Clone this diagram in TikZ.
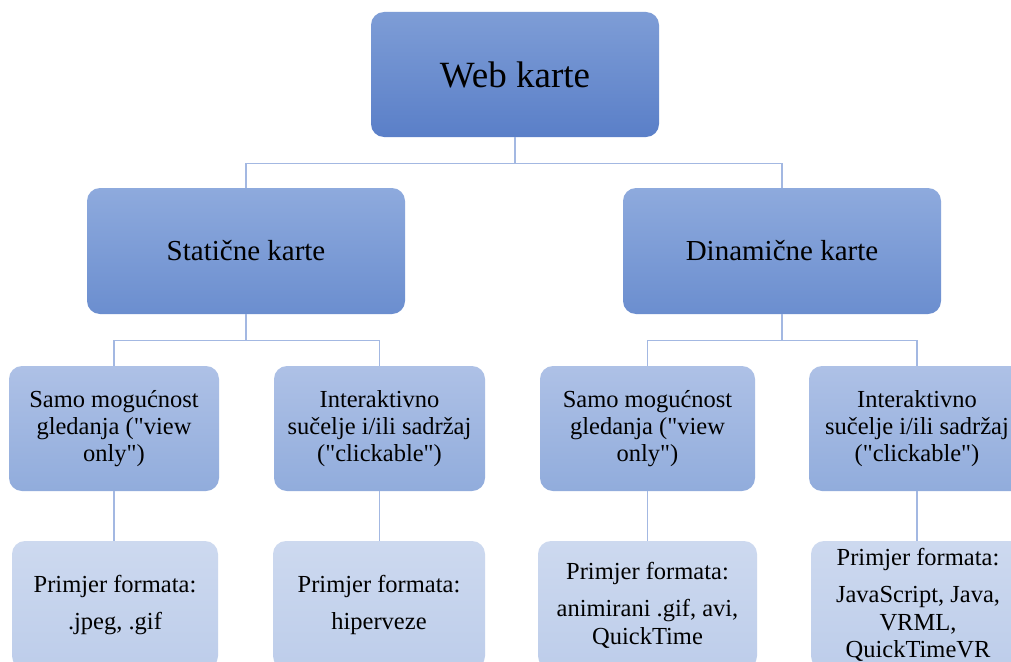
\documentclass[tikz,border=0pt]{standalone}
\usepackage{fontspec}
\setmainfont{Liberation Serif}
\definecolor{aT}{HTML}{7E9DD6}
\definecolor{aB}{HTML}{5A7FC8}
\definecolor{bT}{HTML}{8EAADD}
\definecolor{bB}{HTML}{6B8ECF}
\definecolor{cT}{HTML}{AEC1E6}
\definecolor{cB}{HTML}{91ACDC}
\definecolor{dT}{HTML}{CDD9EF}
\definecolor{dB}{HTML}{BDCDEA}
\definecolor{lineC}{HTML}{A3B8E2}
\newcommand{\dq}{\textquotedbl}
\tikzset{
  base/.style={rounded corners=13pt, inner sep=0pt, align=center, text=black},
  lvlA/.style={base, top color=aT, bottom color=aB, minimum width=288pt, minimum height=125pt, font=\fontsize{37}{44}\selectfont},
  lvlB/.style={base, top color=bT, bottom color=bB, minimum width=318pt, minimum height=126pt, font=\fontsize{29}{34}\selectfont},
  lvlC/.style={base, top color=cT, bottom color=cB, minimum height=125pt, font=\fontsize{24.5}{27}\selectfont},
  lvlD/.style={base, top color=dT, bottom color=dB, minimum height=128pt, font=\fontsize{24.5}{27.5}\selectfont},
  conn/.style={draw=lineC, line width=1.3pt},
}
\begin{document}
\begin{tikzpicture}[x=1pt,y=1pt]
\useasboundingbox (0,0) rectangle (1011,-661);
\clip (0,0) rectangle (1011,-661);
\fill[white] (0,0) rectangle (1011,-661);
% level 1
\node[lvlA] (web) at (515,-74.5) {Web karte};
% level 2
\node[lvlB] (stat) at (246,-251) {Statične karte};
\node[lvlB] (dyn) at (782,-251) {Dinamične karte};
% level 3
\node[lvlC, minimum width=210pt] (sv) at (114,-428.5) {Samo mogućnost\\gledanja (\dq view\\only\dq)};
\node[lvlC, minimum width=211pt] (si) at (379.5,-428.5) {Interaktivno\\sučelje i/ili sadržaj\\(\dq clickable\dq)};
\node[lvlC, minimum width=215pt] (dv) at (647.5,-428.5) {Samo mogućnost\\gledanja (\dq view\\only\dq)};
\node[lvlC, minimum width=216pt] (di) at (917,-428.5) {Interaktivno\\sučelje i/ili sadržaj\\(\dq clickable\dq)};
% level 4
\node[lvlD, minimum width=206pt] (sve) at (115,-605) {Primjer formata:\\[10pt].jpeg, .gif};
\node[lvlD, minimum width=212pt] (sie) at (379,-605) {Primjer formata:\\[10pt]hiperveze};
\node[lvlD, minimum width=219pt] (dve) at (647.5,-605) {Primjer formata:\\[10pt]animirani .gif, avi,\\QuickTime};
\node[lvlD, minimum width=214pt] (die) at (918,-605) {Primjer formata:\\[10pt]JavaScript, Java,\\VRML,\\QuickTimeVR};
% connectors
\draw[conn] (web.south) -- ++(0,-26) -| (stat.north);
\draw[conn] (web.south) -- ++(0,-26) -| (dyn.north);
\draw[conn] (stat.south) -- ++(0,-26) -| (sv.north);
\draw[conn] (stat.south) -- ++(0,-26) -| (si.north);
\draw[conn] (dyn.south) -- ++(0,-26) -| (dv.north);
\draw[conn] (dyn.south) -- ++(0,-26) -| (di.north);
\draw[conn] (sv.south) -- (sve.north -| sv.south);
\draw[conn] (si.south) -- (sie.north -| si.south);
\draw[conn] (dv.south) -- (dve.north -| dv.south);
\draw[conn] (di.south) -- (die.north -| di.south);
\end{tikzpicture}
\end{document}
